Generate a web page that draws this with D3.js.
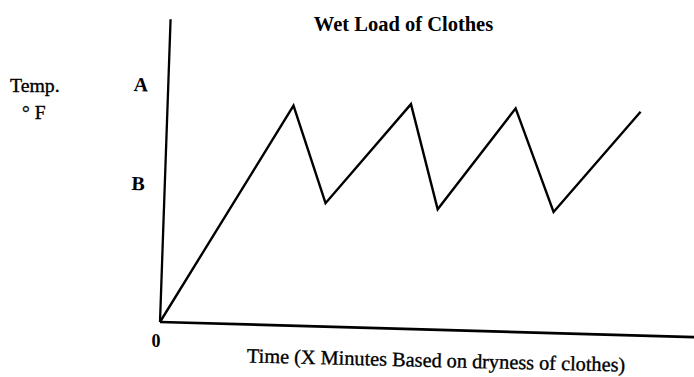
<!DOCTYPE html>
<html>
<head>
<meta charset="utf-8">
<script src="https://cdn.jsdelivr.net/npm/d3@7"></script>
<style>
  html, body { margin: 0; padding: 0; background: #fff; }
  svg { display: block; }
  text { font-family: "Liberation Serif", "Times New Roman", serif; fill: #000; }
  text.ink { stroke: #000; stroke-width: 0.35px; }
</style>
</head>
<body>
<div id="chart"></div>
<script>
// Dryer temperature over time: heats up, cycles between the upper and lower set points
const times = [0, 25, 31, 47, 52, 66.6, 73.7, 90];
const temps = [0, 71.4, 39.2, 71.9, 37.2, 70.5, 36.3, 69.4];

// Named temperature levels marked on the vertical axis
const levelNames = ["A", "B"];
const levelValues = [78.2, 45.5];

const width = 694, height = 377;

const svg = d3.select("#chart").append("svg")
  .attr("width", width)
  .attr("height", height);

const x = d3.scaleLinear().domain([0, 100]).range([160, 694]);
const y = d3.scaleLinear().domain([0, 100]).range([322, 19]);

const ox = x(0), oy = y(0);

// Title
svg.append("text")
  .attr("x", 403.5)
  .attr("y", 30.5)
  .attr("text-anchor", "middle")
  .style("font-size", "20.5px")
  .style("font-weight", "bold")
  .text("Wet Load of Clothes");

// Vertical axis, hand-drawn with a slight lean to the right
const yAxis = d3.axisLeft(y)
  .tickValues(levelValues)
  .tickFormat((d, i) => levelNames[i])
  .tickSize(0)
  .tickPadding(20);

const gy = svg.append("g")
  .attr("transform", `translate(${ox},0) rotate(2, 0, ${oy})`)
  .call(yAxis);
gy.select(".domain")
  .attr("stroke", "#000")
  .attr("stroke-width", 2.3)
  .attr("d", `M0,${oy}V${y(100)}`);
gy.selectAll(".tick text")
  .style("font-size", "20px")
  .style("font-weight", "bold")
  .style("font-family", "'Liberation Serif', 'Times New Roman', serif");

// Horizontal axis, sloping slightly downward
const xAxis = d3.axisBottom(x).tickValues([]).tickSize(0);
const gx = svg.append("g")
  .attr("transform", `translate(0,${oy}) rotate(1.62, ${ox}, 0)`)
  .call(xAxis);
gx.select(".domain")
  .attr("stroke", "#000")
  .attr("stroke-width", 2.7)
  .attr("d", `M${ox},0H${x(100) + 2}`);

// Origin label
svg.append("text")
  .attr("x", ox - 4)
  .attr("y", oy + 25)
  .attr("text-anchor", "middle")
  .style("font-size", "18px")
  .style("font-weight", "bold")
  .text("0");

// Vertical axis title
svg.append("text")
  .attr("class", "ink")
  .attr("x", 10)
  .attr("y", 92)
  .style("font-size", "19.8px")
  .text("Temp.");
svg.append("text")
  .attr("class", "ink")
  .attr("x", 22)
  .attr("y", 119)
  .style("font-size", "19.5px")
  .text("\u00B0 F");

// Horizontal axis title
svg.append("text")
  .attr("class", "ink")
  .attr("x", 436)
  .attr("y", 367)
  .attr("text-anchor", "middle")
  .attr("transform", "rotate(1.4, 436, 367)")
  .style("font-size", "20.3px")
  .text("Time (X Minutes Based on dryness of clothes)");

// Temperature trace
const points = times.map((t, i) => [t, temps[i]]);
const line = d3.line().x(d => x(d[0])).y(d => y(d[1]));

svg.append("path")
  .datum(points)
  .attr("fill", "none")
  .attr("stroke", "#000")
  .attr("stroke-width", 2.4)
  .attr("stroke-linejoin", "miter")
  .attr("d", line);
</script>
</body>
</html>
